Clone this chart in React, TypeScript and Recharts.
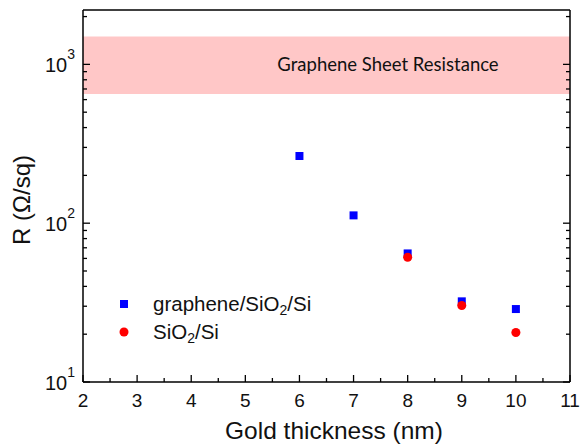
import React from 'react';
import {
  ScatterChart,
  Scatter,
  XAxis,
  YAxis,
  ReferenceArea,
  Legend,
} from 'recharts';

// ---- data ----
const thickness = [6, 7, 8, 9, 10];
const grapheneR = [265, 112, 64.5, 32.2, 28.8];
const sio2Thickness = [8, 9, 10];
const sio2R = [61, 30.3, 20.5];

const xTicks = [2, 2.5, 3, 3.5, 4, 4.5, 5, 5.5, 6, 6.5, 7, 7.5, 8, 8.5, 9, 9.5, 10, 10.5, 11];
const yTicks = [
  10, 20, 30, 40, 50, 60, 70, 80, 90,
  100, 200, 300, 400, 500, 600, 700, 800, 900,
  1000, 2000,
];
const xDomain = [2, 11];
const yDomain = [10, 2200];
const bandLow = 650;
const bandHigh = 1500;
const bandLabel = 'Graphene Sheet Resistance';
const xLabel = 'Gold thickness (nm)';
const yLabel = 'R (Ω/sq)';
const seriesNames = ['graphene/SiO2/Si', 'SiO2/Si'];

const grapheneData = thickness.map((t, i) => ({ x: t, y: grapheneR[i] }));
const sio2Data = sio2Thickness.map((t, i) => ({ x: t, y: sio2R[i] }));

const FONT = '"Liberation Sans", Arial, sans-serif';
const MAJOR = 7;
const MINOR = 4;

const isMajorLog = (v: number) => Math.abs(Math.log10(v) - Math.round(Math.log10(v))) < 1e-9;

const BottomTick = (props: any) => {
  const { x, y, payload } = props;
  const v = payload.value;
  const major = Number.isInteger(v);
  return (
    <g>
      <line x1={x} x2={x} y1={y} y2={y - (major ? MAJOR : MINOR)} stroke="#000" strokeWidth={1.3} />
      {major && (
        <text x={x} y={y + 25} textAnchor="middle" fontFamily={FONT} fontSize={19} fill="#111">
          {v}
        </text>
      )}
    </g>
  );
};

const TopTick = (props: any) => {
  const { x, y, payload } = props;
  const major = Number.isInteger(payload.value);
  return <line x1={x} x2={x} y1={y} y2={y + (major ? MAJOR : MINOR)} stroke="#000" strokeWidth={1.3} />;
};

const LeftTick = (props: any) => {
  const { x, y, payload } = props;
  const v = payload.value;
  const major = isMajorLog(v);
  return (
    <g>
      <line x1={x} x2={x + (major ? MAJOR : MINOR)} y1={y} y2={y} stroke="#000" strokeWidth={1.3} />
      {major && (
        <text x={x - 8} y={y + 8} textAnchor="end" fontFamily={FONT} fontSize={20} fill="#111">
          10
          <tspan dy={-13} fontSize={14}>
            {Math.round(Math.log10(v))}
          </tspan>
        </text>
      )}
    </g>
  );
};

const RightTick = (props: any) => {
  const { x, y, payload } = props;
  const major = isMajorLog(payload.value);
  return <line x1={x} x2={x - (major ? MAJOR : MINOR)} y1={y} y2={y} stroke="#000" strokeWidth={1.3} />;
};

const withSub = (name: string) => {
  const parts = name.split('O2');
  if (parts.length === 1) return name;
  return (
    <>
      {parts[0]}O<sub style={{ fontSize: 14, lineHeight: 0, verticalAlign: -4 }}>2</sub>
      {parts[1]}
    </>
  );
};

const LegendContent = () => (
  <div style={{ fontFamily: FONT, fontSize: 20.5, color: '#111' }}>
    {seriesNames.map((n, i) => (
      <div key={n} style={{ display: 'flex', alignItems: 'center', height: 28, whiteSpace: 'nowrap' }}>
        <svg width={38} height={28} style={{ display: 'block' }}>
          {i === 0 ? (
            <rect x={5} y={10} width={8} height={8} fill="#0000ff" />
          ) : (
            <circle cx={9} cy={14} r={4.5} fill="#ff0000" />
          )}
        </svg>
        <span>{withSub(n)}</span>
      </div>
    ))}
  </div>
);

const BandLabel = (props: any) => {
  const { viewBox } = props;
  const cy = viewBox.y + viewBox.height / 2;
  return (
    <text x={viewBox.x + 305} y={cy + 6} textAnchor="middle" fontFamily="Lato, sans-serif" fontSize={18.5} fill="#111">
      {bandLabel}
    </text>
  );
};

const XLabel = () => (
  <text x={334} y={439} textAnchor="middle" fontFamily={FONT} fontSize={24.5} fill="#111">
    {xLabel}
  </text>
);

const YLabel = () => (
  <text
    x={30}
    y={200}
    transform="rotate(-90 30 200)"
    textAnchor="middle"
    fontFamily={FONT}
    fontSize={24}
    fill="#111"
  >
    {yLabel}
  </text>
);

export default function App() {
  return (
    <div style={{ position: 'absolute', left: 0, top: 0, background: '#fff' }}>
      <ScatterChart width={581} height={446} margin={{ top: 0, right: 0, bottom: 0, left: 0 }}>
        <ReferenceArea
          y1={bandLow}
          y2={bandHigh}
          fill="#ffc7c7"
          fillOpacity={1}
          stroke="none"
          label={(p: any) => <BandLabel {...p} />}
        />
        <XAxis
          type="number"
          dataKey="x"
          domain={xDomain}
          ticks={xTicks}
          interval={0}
          allowDataOverflow
          height={64}
          tickSize={0}
          tickMargin={0}
          tickLine={false}
          tick={<BottomTick />}
          axisLine={{ stroke: '#000', strokeWidth: 1.5 }}
          label={{ content: () => <XLabel /> }}
        />
        <XAxis
          xAxisId="top"
          orientation="top"
          type="number"
          domain={xDomain}
          ticks={xTicks}
          interval={0}
          allowDataOverflow
          height={10}
          tickSize={0}
          tickMargin={0}
          tickLine={false}
          tick={<TopTick />}
          axisLine={{ stroke: '#000', strokeWidth: 1.5 }}
        />
        <YAxis
          type="number"
          dataKey="y"
          scale="log"
          domain={yDomain}
          ticks={yTicks}
          interval={0}
          allowDataOverflow
          width={83}
          tickSize={0}
          tickMargin={0}
          tickLine={false}
          tick={<LeftTick />}
          axisLine={{ stroke: '#000', strokeWidth: 1.5 }}
          label={{ content: () => <YLabel /> }}
        />
        <YAxis
          yAxisId="right"
          orientation="right"
          type="number"
          scale="log"
          domain={yDomain}
          ticks={yTicks}
          interval={0}
          allowDataOverflow
          width={11}
          tickSize={0}
          tickMargin={0}
          tickLine={false}
          tick={<RightTick />}
          axisLine={{ stroke: '#000', strokeWidth: 1.5 }}
        />
        <Legend
          layout="vertical"
          align="center"
          verticalAlign="middle"
          content={<LegendContent />}
          wrapperStyle={{ left: 115, top: 290, width: 'auto' }}
        />
        <Scatter
          name={seriesNames[0]}
          data={grapheneData}
          fill="#0000ff"
          shape="square"
          isAnimationActive={false}
        />
        <Scatter
          name={seriesNames[1]}
          data={sio2Data}
          fill="#ff0000"
          shape="circle"
          isAnimationActive={false}
        />
      </ScatterChart>
    </div>
  );
}
